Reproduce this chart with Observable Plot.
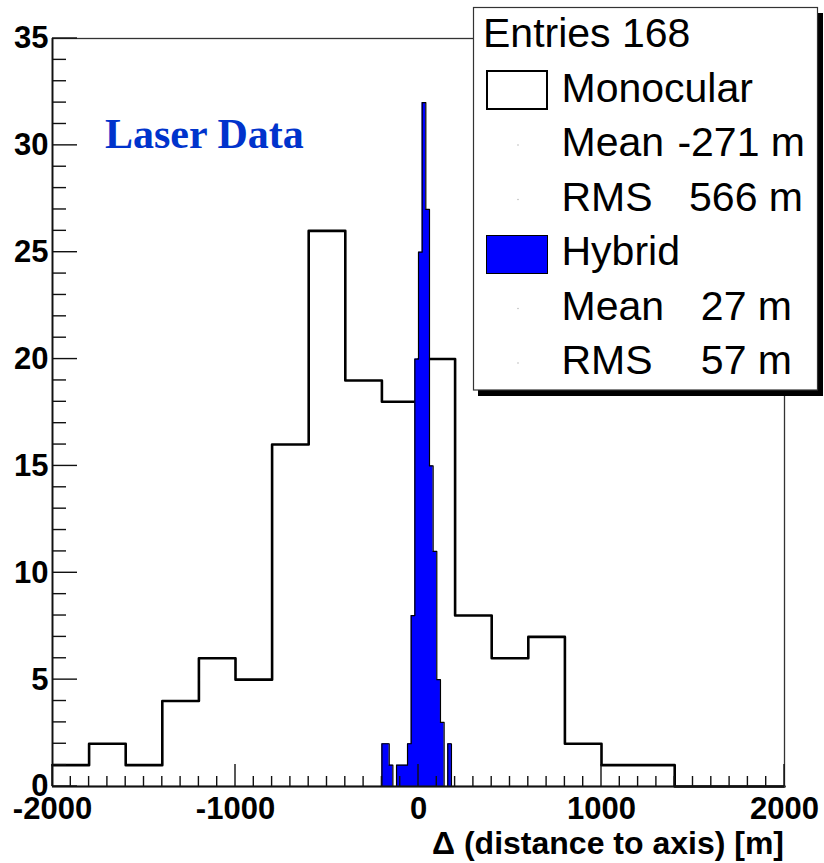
<!DOCTYPE html>
<html><head><meta charset="utf-8">
<script src="https://cdn.jsdelivr.net/npm/d3@7"></script>
<script src="https://cdn.jsdelivr.net/npm/@observablehq/plot@0.6"></script>
<style>body{margin:0;background:#fff} svg{display:block}</style>
</head><body><div id="chart"></div>
<script>
// Monocular histogram: bin edges and counts
const monoEdges = [-2000,-1800,-1600,-1400,-1200,-1000,-800,-600,-400,-200,0,200,400,600,800,1000,1200,1400,1600,1800,2000];
const monoCounts = [1,2,1,4,6,5,16,26,19,18,20,8,6,7,2,1,1,0,0,0];
// Hybrid histogram: bin edges and counts
const hybEdges = [-200,-180,-160,-140,-120,-100,-80,-60,-40,-20,0,20,40,60,80,100,120,140,160,180];
const hybCounts = [2,2,1,0,1,1,1,2,8,20,25,32,27,15,11,5,3,0,2];
// Axis ticks
const xTicks = [-2000,-1000,0,1000,2000];
const xTickLabels = ["-2000","-1000","0","1000","2000"];
const yTicks = [0,5,10,15,20,25,30,35];
const yTickLabels = ["0","5","10","15","20","25","30","35"];
// Texts
const xTitle = "\u0394 (distance to axis) [m]";
const annotation = "Laser Data";
const entriesText = "Entries 168";
const legendSeries = ["Monocular","Hybrid"];
const statLabels = ["Mean","RMS","Mean","RMS"];
const statValues = ["-271 m","566 m","27 m","57 m"];

const monoPts = monoEdges.map((x,i)=>({x, y: monoCounts[Math.min(i, monoCounts.length-1)]}));
const nH = hybCounts.length;
const hybPts = [{x: hybEdges[0], y: 0}]
  .concat(hybEdges.slice(0, nH).map((x,i)=>({x, y: hybCounts[i]})))
  .concat([{x: hybEdges[nH], y: hybCounts[nH-1]}, {x: hybEdges[nH], y: 0}]);

const chart = Plot.plot({
  width: 824, height: 863,
  marginLeft: 52, marginRight: 40, marginTop: 38, marginBottom: 77,
  x: {domain: [-2000, 2000], ticks: xTicks, tickFormat: d => xTickLabels[xTicks.indexOf(d)], tickSize: 0, tickPadding: 10, label: null},
  y: {domain: [0, 35], ticks: yTicks, tickFormat: d => yTickLabels[yTicks.indexOf(d)], tickSize: 0, tickPadding: 4, label: null},
  style: {fontFamily: "'Liberation Sans', Arial, sans-serif", fontSize: "31px", fontWeight: "bold", color: "#000", background: "#fff", overflow: "visible"},
  marks: [
    Plot.lineY(monoPts, {x: "x", y: "y", curve: "step-after", stroke: "#000", strokeWidth: 2.6}),
    Plot.areaY(hybPts, {x: "x", y: "y", curve: "step-after", fill: "#0000ff"}),
    Plot.lineY(hybPts, {x: "x", y: "y", curve: "step-after", stroke: "#000", strokeWidth: 1.2}),
    Plot.frame({stroke: "#333", strokeWidth: 1.3}),
    Plot.ruleX([-2000], {stroke: "#111", strokeWidth: 1.8}),
    Plot.ruleY([0], {stroke: "#111", strokeWidth: 1.8})
  ]
});
document.getElementById("chart").appendChild(chart);

const sx = chart.scale("x"), sy = chart.scale("y");
const svg = d3.select(chart);
const x0 = sx.apply(-2000), y0 = sy.apply(0);

// inward ticks (ROOT style)
const tg = svg.append("g").attr("stroke", "#111").attr("stroke-width", 1.4);
d3.range(0, 36, 1).forEach(v => {
  const y = sy.apply(v), len = (v % 5 === 0) ? 25 : 14;
  tg.append("line").attr("x1", x0).attr("x2", x0 + len).attr("y1", y).attr("y2", y);
});
d3.range(-2000, 2001, 100).forEach(v => {
  const x = sx.apply(v), len = (v % 1000 === 0) ? 22 : 10;
  tg.append("line").attr("x1", x).attr("x2", x).attr("y1", y0).attr("y2", y0 - len);
});

// annotation
svg.append("text").attr("x", 105).attr("y", 148).attr("text-anchor", "start")
  .attr("font-family", "'Liberation Serif', 'Times New Roman', serif")
  .attr("font-size", 42).attr("font-weight", "bold").attr("fill", "#0033cc")
  .text(annotation);

// x axis title
svg.append("text").attr("x", sx.apply(2000)).attr("y", 854).attr("text-anchor", "end")
  .attr("font-family", "'Liberation Sans', Arial, sans-serif")
  .attr("font-size", 32).attr("font-weight", "bold").attr("fill", "#000")
  .text(xTitle);

// legend / stats box
const lg = svg.append("g").attr("font-family", "'Liberation Sans', Arial, sans-serif")
  .attr("text-anchor", "start")
  .attr("font-size", 41).attr("font-weight", "normal").attr("fill", "#000");
lg.append("rect").attr("x", 478).attr("y", 13).attr("width", 345).attr("height", 383).attr("fill", "#000");
lg.append("rect").attr("x", 473.5).attr("y", 7.5).attr("width", 344).attr("height", 382.5)
  .attr("fill", "#fff").attr("stroke", "#333").attr("stroke-width", 1.2);
const base = [47, 101.5, 156, 210.5, 265, 319.5, 374];
lg.append("text").attr("x", 483).attr("y", base[0]).text(entriesText);
lg.append("rect").attr("x", 487).attr("y", 71).attr("width", 60).attr("height", 38)
  .attr("fill", "#fff").attr("stroke", "#000").attr("stroke-width", 2);
lg.append("rect").attr("x", 486.5).attr("y", 235.5).attr("width", 61).attr("height", 38)
  .attr("fill", "#0000ff").attr("stroke", "#000").attr("stroke-width", 1);
lg.append("text").attr("x", 561.5).attr("y", base[1]).text(legendSeries[0]);
lg.append("text").attr("x", 561.5).attr("y", base[4]).text(legendSeries[1]);
const statRows = [base[2], base[3], base[5], base[6]];
const valueRight = [805, 803, 792, 792];
statRows.forEach((b, i) => {
  lg.append("circle").attr("cx", 518).attr("cy", b - 11).attr("r", 0.8).attr("fill", "#bbb");
  lg.append("text").attr("x", 561.5).attr("y", b).text(statLabels[i]);
  lg.append("text").attr("x", valueRight[i]).attr("y", b).attr("text-anchor", "end").text(statValues[i]);
});
</script>
</body></html>
